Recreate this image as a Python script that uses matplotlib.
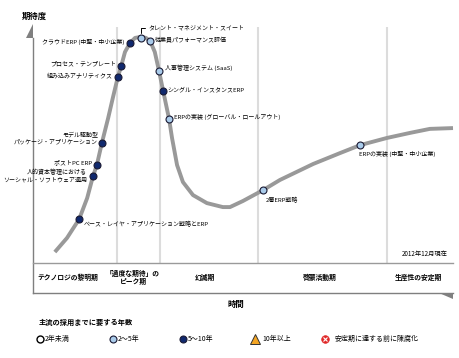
import matplotlib
matplotlib.use('Agg')
import matplotlib.pyplot as plt
from matplotlib.patches import Polygon

plt.rcParams['font.family'] = ['Noto Sans CJK JP', 'DejaVu Sans']

# ---------------- data (time 0-100, expectation 0-100) ----------------
curve_time = [5.2, 8.1, 11.0, 12.9, 14.3, 15.2, 16.4, 17.9, 19.0, 20.2, 21.0, 21.9,
              23.1, 24.3, 25.7, 26.9, 27.9, 29.0, 30.0, 31.0, 32.4, 33.1, 34.3,
              35.7, 38.1, 41.4, 45.2, 46.9, 50.0, 54.8, 58.8, 66.7, 73.1, 77.9,
              84.3, 89.8, 94.5, 100.0]
curve_expect = [15.4, 20.7, 27.8, 35.7, 44.0, 48.1, 56.4, 65.8, 73.3, 81.2, 85.3, 90.6,
                94.0, 95.9, 96.3, 95.9, 94.7, 90.6, 83.5, 75.9, 65.4, 58.3, 48.1,
                41.7, 36.8, 33.8, 32.3, 32.3, 34.6, 38.7, 42.5, 48.5, 52.6, 55.6,
                58.3, 60.2, 61.7, 62.0]

tech_names = ['ベース・レイヤ・アプリケーション戦略とERP',
              '人的資本管理における\nソーシャル・ソフトウェア適用',
              'ポストPC ERP',
              'モデル駆動型\nパッケージ・アプリケーション',
              '組み込みアナリティクス',
              'プロセス・テンプレート',
              'クラウドERP (中堅・中小企業)',
              'タレント・マネジメント・スイート',
              '従業員パフォーマンス評価',
              '人事管理システム (SaaS)',
              'シングル・インスタンスERP',
              'ERPの実装 (グローバル・ロールアウト)',
              '2層ERP戦略',
              'ERPの実装 (中堅・中小企業)']
tech_time = [11.0, 14.3, 15.2, 16.4, 20.2, 21.0, 23.1, 25.7, 27.9, 30.0, 31.0, 32.4, 54.8, 77.9]
tech_expect = [27.8, 44.0, 48.1, 56.4, 81.2, 85.3, 94.0, 96.0, 94.7, 83.5, 75.9, 65.4, 38.7, 55.6]
tech_years = ['5～10年', '5～10年', '5～10年', '5～10年', '5～10年', '5～10年', '5～10年',
              '2～5年', '2～5年', '2～5年', '5～10年', '2～5年', '2～5年', '2～5年']

phase_names = ['テクノロジの黎明期', '「過度な期待」の\nピーク期', '幻滅期', '啓蒙活動期', '生産性の安定期']
phase_bounds = [20.0, 30.2, 53.6, 84.3]

legend_labels = ['2年未満', '2～5年', '5～10年', '10年以上', '安定期に達する前に陳腐化']

# ---------------- styles ----------------
year_colors = {'2年未満': 'white', '2～5年': '#a9cbea', '5～10年': '#10296e'}
edge = '#1a1a33'
# label offsets in pixels (dx, dy) and horizontal alignment
label_style = [(4, -5, 'left'), (-6, 0, 'right'), (-5, 3, 'right'), (-4, 5.5, 'right'),
               (-5, 1, 'right'), (-5, 3, 'right'), (-6, 1, 'right'), (8, 10, 'left'),
               (5, 1, 'left'), (6, 3, 'left'), (4, 2, 'left'), (5, 2, 'left'),
               (3, -10, 'left'), (-1, -9, 'left')]
phase_label_shift = [-1.7, -1.3, -0.9, -0.7, -0.3]   # fine tuning of phase label centers

fig = plt.figure(figsize=(4.6, 3.58), dpi=100)
W, H = 460, 358
ax = fig.add_axes([33 / W, 65 / H, 420 / W, 266 / H])
ax.set_xlim(0, 100)
ax.set_ylim(0, 100)
ax.axis('off')

band_top = 11.3
# phase separators
ax.vlines(phase_bounds, band_top, 100, color='#dcdcdc', lw=1.5, zorder=1)
# frame lines
ax.plot([0, 0], [0, 96], color='#7f7f7f', lw=1.0, clip_on=False, zorder=2)
ax.plot([0, 100], [0, 0], color='#7f7f7f', lw=1.0, clip_on=False, zorder=2)
ax.plot([0, 100], [band_top, band_top], color='#9a9a9a', lw=1.0, clip_on=False, zorder=2)

# hype curve
ax.plot(curve_time, curve_expect, color='#999999', lw=2.8, solid_capstyle='butt',
        solid_joinstyle='round', zorder=3, clip_on=False)

FS = 4.3
# technology points
for name, t, e, yrs, (dx, dy, ha) in zip(tech_names, tech_time, tech_expect, tech_years, label_style):
    ax.plot([t], [e], 'o', ms=5, mfc=year_colors[yrs], mec=edge, mew=0.8, zorder=5)
    if name.startswith('タレント'):
        ax.annotate(name, xy=(t, e), xytext=(dx, dy), textcoords='offset pixels',
                    ha=ha, va='center', fontsize=FS,
                    arrowprops=dict(arrowstyle='-', color='black', lw=0.7,
                                    connectionstyle='angle,angleA=0,angleB=90,rad=0',
                                    shrinkA=1, shrinkB=3))
    else:
        ax.annotate(name, xy=(t, e), xytext=(dx, dy), textcoords='offset pixels',
                    ha=ha, va='center', fontsize=FS, multialignment=ha,
                    linespacing=1.35)

# phase labels
edges = [0] + phase_bounds + [100]
for i, name in enumerate(phase_names):
    cx = (edges[i] + edges[i + 1]) / 2 + phase_label_shift[i]
    ax.text(cx, 5.9, name, ha='center', va='center', fontsize=4.9,
            fontweight='bold', linespacing=1.15, multialignment='center')

ax.text(98.8, 14.7, '2012年12月現在', ha='right', va='center', fontsize=4.5)

# ---------------- overlay (pixel coords) for titles, arrows, legend ----------------
ov = fig.add_axes([0, 0, 1, 1])
ov.set_xlim(0, W)
ov.set_ylim(H, 0)
ov.axis('off')

ov.add_patch(Polygon([(33, 24), (33, 38), (26, 38)], closed=True, color='#808080', lw=0))
ov.add_patch(Polygon([(439, 293), (453, 293), (453, 299)], closed=True, color='#808080', lw=0))

ov.text(22, 16, '期待度', ha='left', va='center', fontsize=6, fontweight='bold')
ov.text(236, 304, '時間', ha='center', va='center', fontsize=6, fontweight='bold')

ov.text(39, 322, '主流の採用までに要する年数', ha='left', va='center', fontsize=5.2,
        fontweight='bold')
leg_x = [40, 113, 183, 255, 325]
ly = 339
ov.plot([leg_x[0]], [ly], 'o', ms=5, mfc='white', mec='black', mew=1.0)
ov.plot([leg_x[1]], [ly], 'o', ms=5, mfc='#a9cbea', mec=edge, mew=0.8)
ov.plot([leg_x[2]], [ly], 'o', ms=5, mfc='#10296e', mec=edge, mew=0.8)
ov.plot([leg_x[3]], [ly - 0.5], '^', ms=7, mfc='#f5a623', mec='#333333', mew=0.7)
ov.plot([leg_x[4]], [ly], 'o', ms=5.5, mfc='#e02828', mec='#e02828', mew=0.5)
ov.plot([leg_x[4]], [ly], 'x', ms=2.5, mec='white', mew=0.8)
text_dx = [5, 5, 5, 7, 10]
for x, lab, d in zip(leg_x, legend_labels, text_dx):
    ov.text(x + d, ly, lab, ha='left', va='center', fontsize=5.0)

fig.savefig('out.png', dpi=100)
